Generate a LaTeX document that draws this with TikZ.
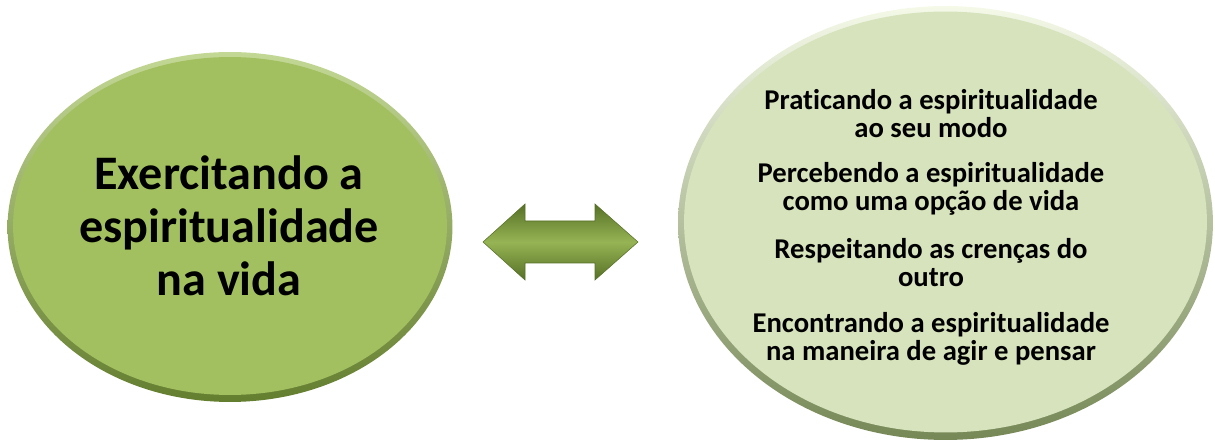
\documentclass[tikz,border=0pt]{standalone}
\usepackage{fontspec}
\setmainfont{Carlito}[Ligatures=NoCommon]
\usetikzlibrary{shapes,positioning}
\definecolor{leafgreen}{RGB}{162,192,96}
\definecolor{leafdark}{RGB}{100,126,48}
\definecolor{leaflight}{RGB}{196,216,150}
\definecolor{palegreen}{RGB}{214,227,188}
\definecolor{paledark}{RGB}{118,136,86}
\definecolor{palelight}{RGB}{244,249,232}
\definecolor{arrowdark}{RGB}{86,112,38}
\definecolor{arrowmid}{RGB}{150,180,84}
\tikzset{>=latex}
\tikzset{
  bigtext/.style={align=center, font=\bfseries\fontsize{27.4}{30.2}\selectfont},
  itemtext/.style={align=center, font=\bfseries\fontsize{16.3}{15.9}\selectfont},
  blob/.style={ellipse, inner sep=0pt, outer sep=0pt}
}

\begin{document}
\begin{tikzpicture}[x=0.02cm,y=-0.02cm]
\useasboundingbox (0,0) rectangle (1215,445);
% left ellipse
\node[blob, minimum width=8.9cm, minimum height=7cm, top color=leaflight, bottom color=leafdark] (lrim) at (230,227) {};
\node[blob, minimum width=8.68cm, minimum height=6.76cm, fill=leafgreen] (left) at (230,226) {};
\node[bigtext] (ex) at (229,226) {Exercitando a\\espiritualidade\\na vida};
% right ellipse
\node[blob, minimum width=10.7cm, minimum height=8.68cm, top color=palelight, bottom color=paledark] (rrim) at (945.5,223) {};
\node[blob, minimum width=10.46cm, minimum height=8.42cm, fill=palegreen] (right) at (945.5,222) {};
\node[itemtext] (p1) at (931,114) {Praticando a espiritualidade\\ao seu modo};
\node[itemtext] (p2) at (931,189) {Percebendo a espiritualidade\\como uma opção de vida};
\node[itemtext] (p3) at (931,263) {Respeitando as crenças do\\outro};
\node[itemtext] (p4) at (931,339) {Encontrando a espiritualidade\\na maneira de agir e pensar};
% double arrow
\shade[top color=arrowdark, bottom color=arrowdark, middle color=arrowmid, draw=arrowdark, line width=0.3pt]
  (483,242) -- (525,204) -- (525,221) -- (595,221) -- (595,204) -- (638,242)
  -- (595,280) -- (595,263) -- (525,263) -- (525,280) -- cycle;
\end{tikzpicture}
\end{document}
